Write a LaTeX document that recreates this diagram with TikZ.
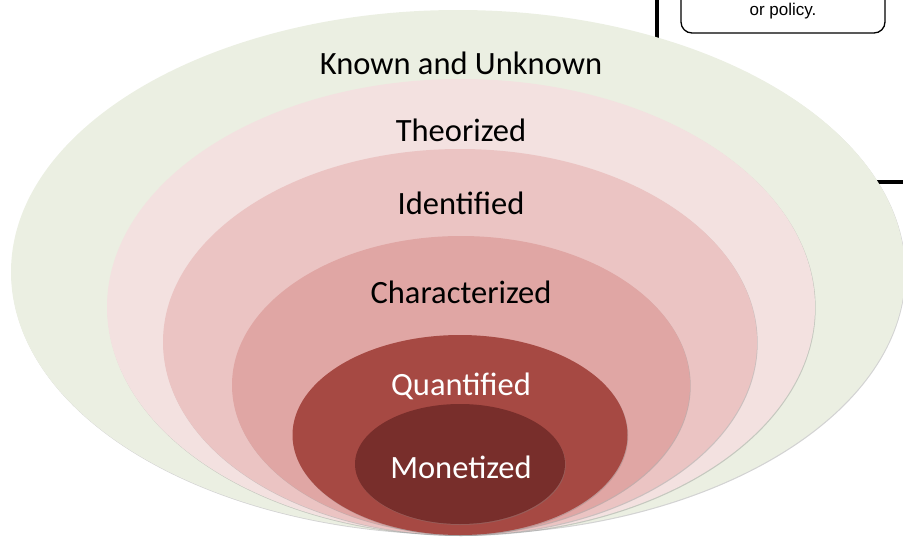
\documentclass[tikz,border=0pt]{standalone}
\usepackage{fontspec}
\setmainfont{Carlito}
\newfontfamily\boxfont{Liberation Sans}
\usetikzlibrary{shapes.geometric,shadows}

\definecolor{knowncol}{HTML}{EBEFE2}
\definecolor{theorcol}{HTML}{F3E1E0}
\definecolor{identcol}{HTML}{EBC4C3}
\definecolor{charcol}{HTML}{E0A6A4}
\definecolor{quantcol}{HTML}{A64943}
\definecolor{monetcol}{HTML}{782E2B}

\tikzset{
	ring/.style={ellipse, inner sep=0pt, draw=none,
		drop shadow={opacity=0.35, shadow xshift=0.7pt, shadow yshift=-1pt}},
	lbl/.style={font=\fontsize{32.5}{34}\selectfont, inner sep=0pt}
}

\begin{document}
\begin{tikzpicture}[x=1pt, y=-1pt]
			\useasboundingbox (0, 0) rectangle (903, 541);
			%% pieces of the slide behind the rings
			\coordinate (vtop) at (657, -5);
			\coordinate (vbot) at (657, 60);
			\coordinate (hleft) at (860, 182);
			\coordinate (hright) at (910, 182);
			\draw[line width=3.6pt] (vtop) -- (vbot);
			\draw[line width=3.6pt] (hleft) -- (hright);
			\draw[line width=1.3pt, rounded corners=11pt] (681, -40) rectangle (885, 33);
			\node (policy) at (783, 11) {\boxfont\fontsize{17}{19}\selectfont or policy.};
			%%
			\node[ring, fill=knowncol, minimum width=894pt, minimum height=524pt] (known) at (458, 272) {};
			\node[ring, fill=theorcol, minimum width=708pt, minimum height=456pt] (theor) at (461, 307) {};
			\node[ring, fill=identcol, minimum width=594pt, minimum height=386pt] (ident) at (460, 342) {};
			\node[ring, fill=charcol, minimum width=458pt, minimum height=298pt] (charact) at (461, 385) {};
			\node[ring, fill=quantcol, minimum width=335pt, minimum height=200pt] (quant) at (460, 435) {};
			\node[ring, fill=monetcol, minimum width=210pt, minimum height=120pt] (monet) at (460, 464) {};
			%%
			\node[lbl] (knownlbl) at (461, 63) {Known and Unknown};
			\node[lbl] (theorlbl) at (461, 130) {Theorized};
			\node[lbl] (identlbl) at (461, 203) {Identified};
			\node[lbl] (charlbl) at (461, 292) {Characterized};
			\node[lbl, text=white] (quantlbl) at (461, 386) {Quantified};
			\node[lbl, text=white] (monetlbl) at (461, 467) {Monetized};
		\end{tikzpicture}
\end{document}
